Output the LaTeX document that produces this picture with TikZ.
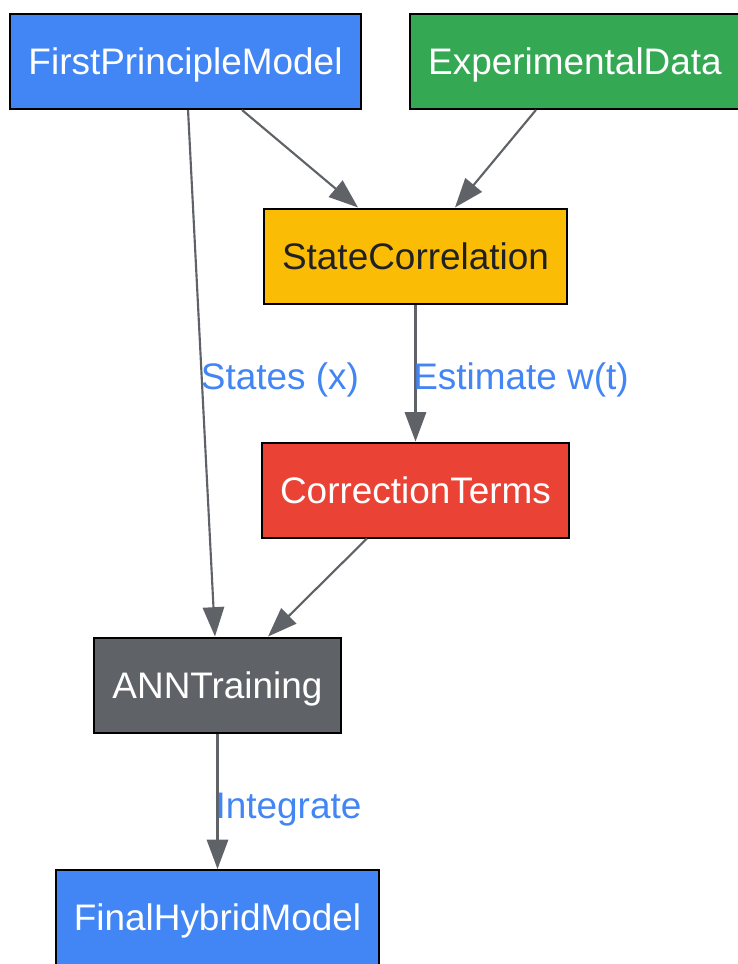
\documentclass[tikz,border=0pt]{standalone}
\usepackage{fontspec}
\setmainfont{Liberation Sans}
\usetikzlibrary{arrows.meta}

\definecolor{gblue}{HTML}{4285F4}
\definecolor{ggreen}{HTML}{34A853}
\definecolor{gyellow}{HTML}{FBBC05}
\definecolor{gred}{HTML}{EA4335}
\definecolor{ggrey}{HTML}{5F6368}
\definecolor{gdark}{HTML}{202124}

\tikzset{
    box/.style={draw=black, line width=1.5pt, minimum height=71.25pt,
        inner xsep=13.5pt, text height=24pt, text depth=4.3pt,
        font=\fontsize{27.7}{33}\selectfont},
    flow/.style={draw=ggrey, line width=1.6pt,
        -{Triangle[length=22pt,width=16pt]}},
    lbl/.style={text=gblue, inner sep=0pt, text height=24pt, text depth=4.3pt,
        font=\fontsize{27.7}{33}\selectfont}
}

\begin{document}
\begin{tikzpicture}[x=0.75pt, y=-0.75pt]
    \useasboundingbox (0, 0) rectangle (738, 964);

    \node[box, fill=gblue, text=white] (fpm) at (185.5, 61.5) {FirstPrincipleModel};
    \node[box, fill=ggreen, text=white] (exp) at (575, 61.5) {ExperimentalData};
    \node[box, fill=gyellow, text=gdark] (corr) at (415.5, 256) {StateCorrelation};
    \node[box, fill=gred, text=white] (terms) at (415.5, 490) {CorrectionTerms};
    \node[box, fill=ggrey, text=white] (ann) at (217.5, 685) {ANNTraining};
    \node[box, fill=gblue, text=white] (final) at (217.5, 917.5) {FinalHybridModel};

    \draw[flow] ([xshift=1.9pt]fpm.south) -- ([xshift=-1.9pt]ann.north);
    \draw[flow] ([xshift=42.4pt]fpm.south) -- ([xshift=-43.1pt]corr.north);
    \draw[flow] ([xshift=-29.3pt]exp.south) -- ([xshift=29.6pt]corr.north);
    \draw[flow] (corr) -- (terms);
    \draw[flow] ([xshift=-36.4pt]terms.south) -- ([xshift=37.9pt]ann.north);
    \draw[flow] (ann) -- (final);

    \node[lbl] (states) at (280, 376) {States (x)};
    \node[lbl] (estimate) at (521, 376) {Estimate w(t)};
    \node[lbl] (integrate) at (288.5, 805) {Integrate};
\end{tikzpicture}
\end{document}
